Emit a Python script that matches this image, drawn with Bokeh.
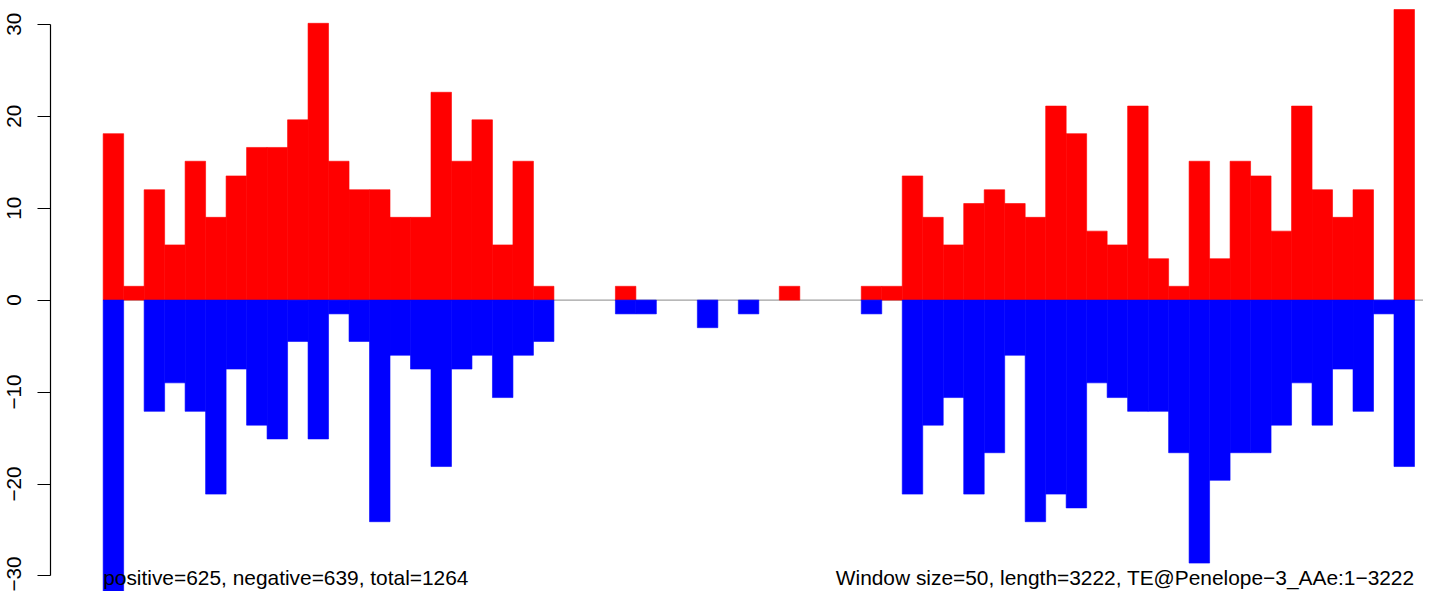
from bokeh.plotting import figure
from bokeh.models import Range1d, LinearAxis, FixedTicker, Label, ColumnDataSource
from bokeh.embed import file_html
from bokeh.resources import INLINE

# ---- data -------------------------------------------------------------
window = 50
seq_length = 3222

positive = [18.1, 1.5, 12.0, 6.0, 15.1, 9.0, 13.5, 16.6, 16.6, 19.6,
            30.1, 15.1, 12.0, 12.0, 9.0, 9.0, 22.6, 15.1, 19.6, 6.0,
            15.1, 1.5, 0.0, 0.0, 0.0, 1.5, 0.0, 0.0, 0.0, 0.0,
            0.0, 0.0, 0.0, 1.5, 0.0, 0.0, 0.0, 1.5, 1.5, 13.5,
            9.0, 6.0, 10.5, 12.0, 10.5, 9.0, 21.1, 18.1, 7.5, 6.0,
            21.1, 4.5, 1.5, 15.1, 4.5, 15.1, 13.5, 7.5, 21.1, 12.0,
            9.0, 12.0, 0.0, 31.6]

negative = [-33.1, 0.0, -12.1, -9.0, -12.1, -21.1, -7.5, -13.6, -15.1, -4.5,
            -15.1, -1.5, -4.5, -24.1, -6.0, -7.5, -18.1, -7.5, -6.0, -10.6,
            -6.0, -4.5, 0.0, 0.0, 0.0, -1.5, -1.5, 0.0, 0.0, -3.0,
            0.0, -1.5, 0.0, 0.0, 0.0, 0.0, 0.0, -1.5, 0.0, -21.1,
            -13.6, -10.6, -21.1, -16.6, -6.0, -24.1, -21.1, -22.6, -9.0, -10.6,
            -12.1, -12.1, -16.6, -28.6, -19.6, -16.6, -16.6, -13.6, -9.0, -13.6,
            -7.5, -12.1, -1.5, -18.1]

tick_values = [-30, -20, -10, 0, 10, 20, 30]
tick_labels = ["\u221230", "\u221220", "\u221210", "0", "10", "20", "30"]

left_note = "positive=625, negative=639, total=1264"
right_note = "Window size=50, length=3222, TE@Penelope\u22123_AAe:1\u22123222"

# ---- derived ------------------------------------------------------------
n = len(positive)
starts = [i * window for i in range(n)]
ends = [s + window for s in starts]


def bar_source(values):
    idx = [i for i, v in enumerate(values) if v != 0]
    return ColumnDataSource(dict(
        left=[starts[i] for i in idx],
        right=[ends[i] for i in idx],
        val=[values[i] for i in idx],
        zero=[0.0] * len(idx)))


pos_src = bar_source(positive)
neg_src = bar_source(negative)

p = figure(width=1423, height=591, output_backend="svg", toolbar_location=None,
           x_range=Range1d(-128.5, seq_length), y_range=Range1d(-31.69, 32.58),
           x_axis_type=None, y_axis_type=None,
           min_border_left=50, min_border_right=0,
           min_border_top=0, min_border_bottom=0)
p.outline_line_color = None
p.background_fill_color = "white"
p.border_fill_color = "white"

# zero reference line
p.segment(x0=[starts[0]], y0=[0], x1=[seq_length + window], y1=[0],
          line_color="#a0a0a0", line_width=1.2)

# bars
p.quad(left="left", right="right", bottom="zero", top="val", source=pos_src,
       fill_color="#ff0000", line_color="#ff0000", line_width=0.6)
p.quad(left="left", right="right", bottom="val", top="zero", source=neg_src,
       fill_color="#0000ff", line_color="#0000ff", line_width=0.6)

# y axis
yaxis = LinearAxis(bounds=(tick_values[0], tick_values[-1]),
                   ticker=FixedTicker(ticks=tick_values),
                   major_label_overrides={v: l for v, l in zip(tick_values, tick_labels)},
                   major_label_orientation="vertical",
                   major_tick_out=13, major_tick_in=0,
                   minor_tick_out=0, minor_tick_in=0,
                   major_label_standoff=16,
                   major_label_text_font="Liberation Sans",
                   major_label_text_font_size="20.7px",
                   major_label_text_color="black",
                   axis_line_color="black", axis_line_width=1.2,
                   major_tick_line_color="black", major_tick_line_width=1.2)
p.add_layout(yaxis, "left")

# bottom notes (kept just inside the bottom edge)
note_y = -31.45
p.add_layout(Label(x=starts[0], y=note_y, x_units="data", y_units="data",
                   text=left_note, text_font="Liberation Sans",
                   text_font_size="20.9px", text_align="left",
                   text_baseline="bottom", text_color="black"))
p.add_layout(Label(x=ends[-1], y=note_y, x_units="data", y_units="data",
                   text=right_note, text_font="Liberation Sans",
                   text_font_size="20.9px", text_align="right",
                   text_baseline="bottom", text_color="black"))

open("out.html", "w").write(file_html(p, INLINE))
